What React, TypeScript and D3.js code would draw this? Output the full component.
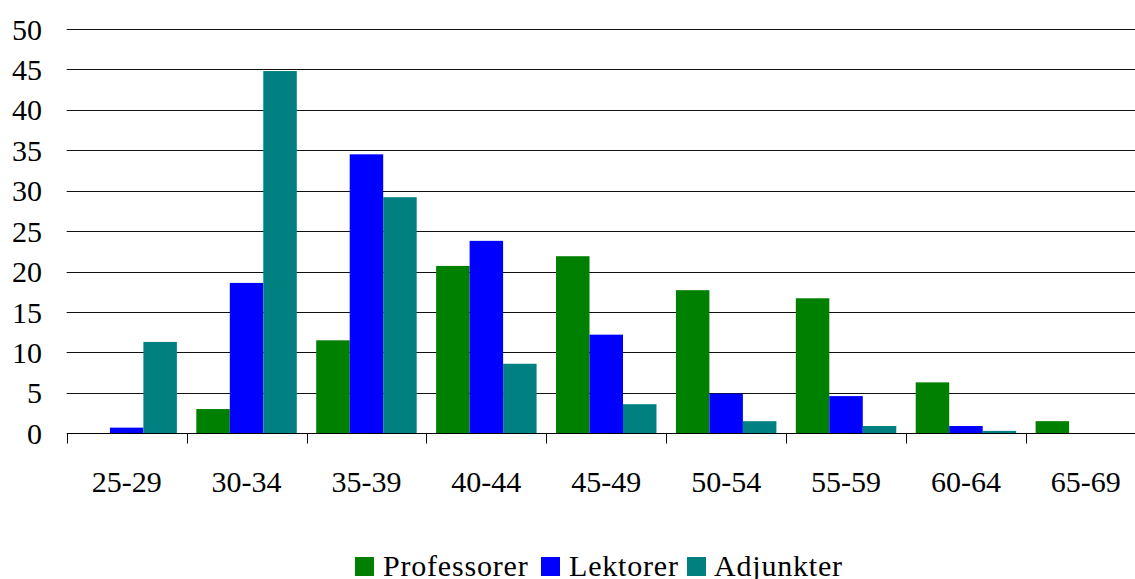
import React from "react";
import * as d3 from "d3";

const categories = ["25-29", "30-34", "35-39", "40-44", "45-49", "50-54", "55-59", "60-64", "65-69"];
const seriesNames = ["Professorer", "Lektorer", "Adjunkter"];
const professorer = [0, 3.0, 11.5, 20.7, 21.9, 17.7, 16.7, 6.3, 1.5];
const lektorer = [0.7, 18.6, 34.5, 23.8, 12.2, 4.9, 4.6, 0.9, 0];
const adjunkter = [11.3, 44.8, 29.2, 8.6, 3.6, 1.5, 0.9, 0.3, 0];
const seriesColors = ["#008000", "#0000FF", "#008080"];
const yTicks = [0, 5, 10, 15, 20, 25, 30, 35, 40, 45, 50];

const W = 1135;
const H = 579;

export default function App() {
  const seriesValues = [professorer, lektorer, adjunkter];
  const x0 = d3.scaleBand<string>().domain(categories).range([66.7, 1145.8]).paddingInner(0).paddingOuter(0);
  const x1 = d3.scaleBand<string>().domain(seriesNames).range([0, x0.bandwidth()]).paddingInner(0).paddingOuter(0.29);
  const y = d3.scaleLinear().domain([0, 50]).range([433.3, 29]);
  const gy = (v: number) => Math.round(y(v)) + 0.5;
  const axisY = gy(0);

  const legendItems = [
    { name: "Professorer", sq: 355, tx: 383 },
    { name: "Lektorer", sq: 541, tx: 569 },
    { name: "Adjunkter", sq: 687, tx: 714 },
  ];

  return (
    <svg
      width={W}
      height={H}
      fontFamily="Liberation Serif"
      style={{ position: "absolute", left: 0, top: 0, background: "#fff" }}
    >
      {yTicks.filter((t) => t > 0).map((t) => (
        <line key={"g" + t} x1={66.7} x2={W} y1={gy(t)} y2={gy(t)} stroke="#111" strokeWidth={1} />
      ))}
      {categories.map((c, i) =>
        seriesValues.map((vals, s) => {
          const v = vals[i];
          if (!v) return null;
          return (
            <rect
              key={c + s}
              x={(x0(c) as number) + (x1(seriesNames[s]) as number)}
              y={y(v)}
              width={x1.bandwidth()}
              height={y(0) - y(v)}
              fill={seriesColors[s]}
            />
          );
        })
      )}
      <line x1={66.7} x2={W} y1={axisY} y2={axisY} stroke="#000" strokeWidth={1} />
      {categories.map((c) => {
        const xx = Math.round(x0(c) as number) + 0.5;
        return <line key={"t" + c} x1={xx} x2={xx} y1={axisY} y2={axisY + 10} stroke="#000" strokeWidth={1} />;
      })}
      <g fontFamily="Liberation Serif" fontSize={30} fill="#000">
        {yTicks.map((t) => (
          <text key={"yl" + t} x={42} y={y(t) + 10.5} textAnchor="end">
            {t}
          </text>
        ))}
        {categories.map((c) => (
          <text key={"xl" + c} x={(x0(c) as number) + x0.bandwidth() / 2} y={492} textAnchor="middle">
            {c}
          </text>
        ))}
      </g>
      {legendItems.map((it, i) => (
        <g key={it.name}>
          <rect x={it.sq} y={557} width={19} height={19} fill={seriesColors[i]} />
          <text x={it.tx} y={575.5} fontFamily="Liberation Serif" fontSize={30} letterSpacing={0.8} fill="#000">
            {it.name}
          </text>
        </g>
      ))}
    </svg>
  );
}
